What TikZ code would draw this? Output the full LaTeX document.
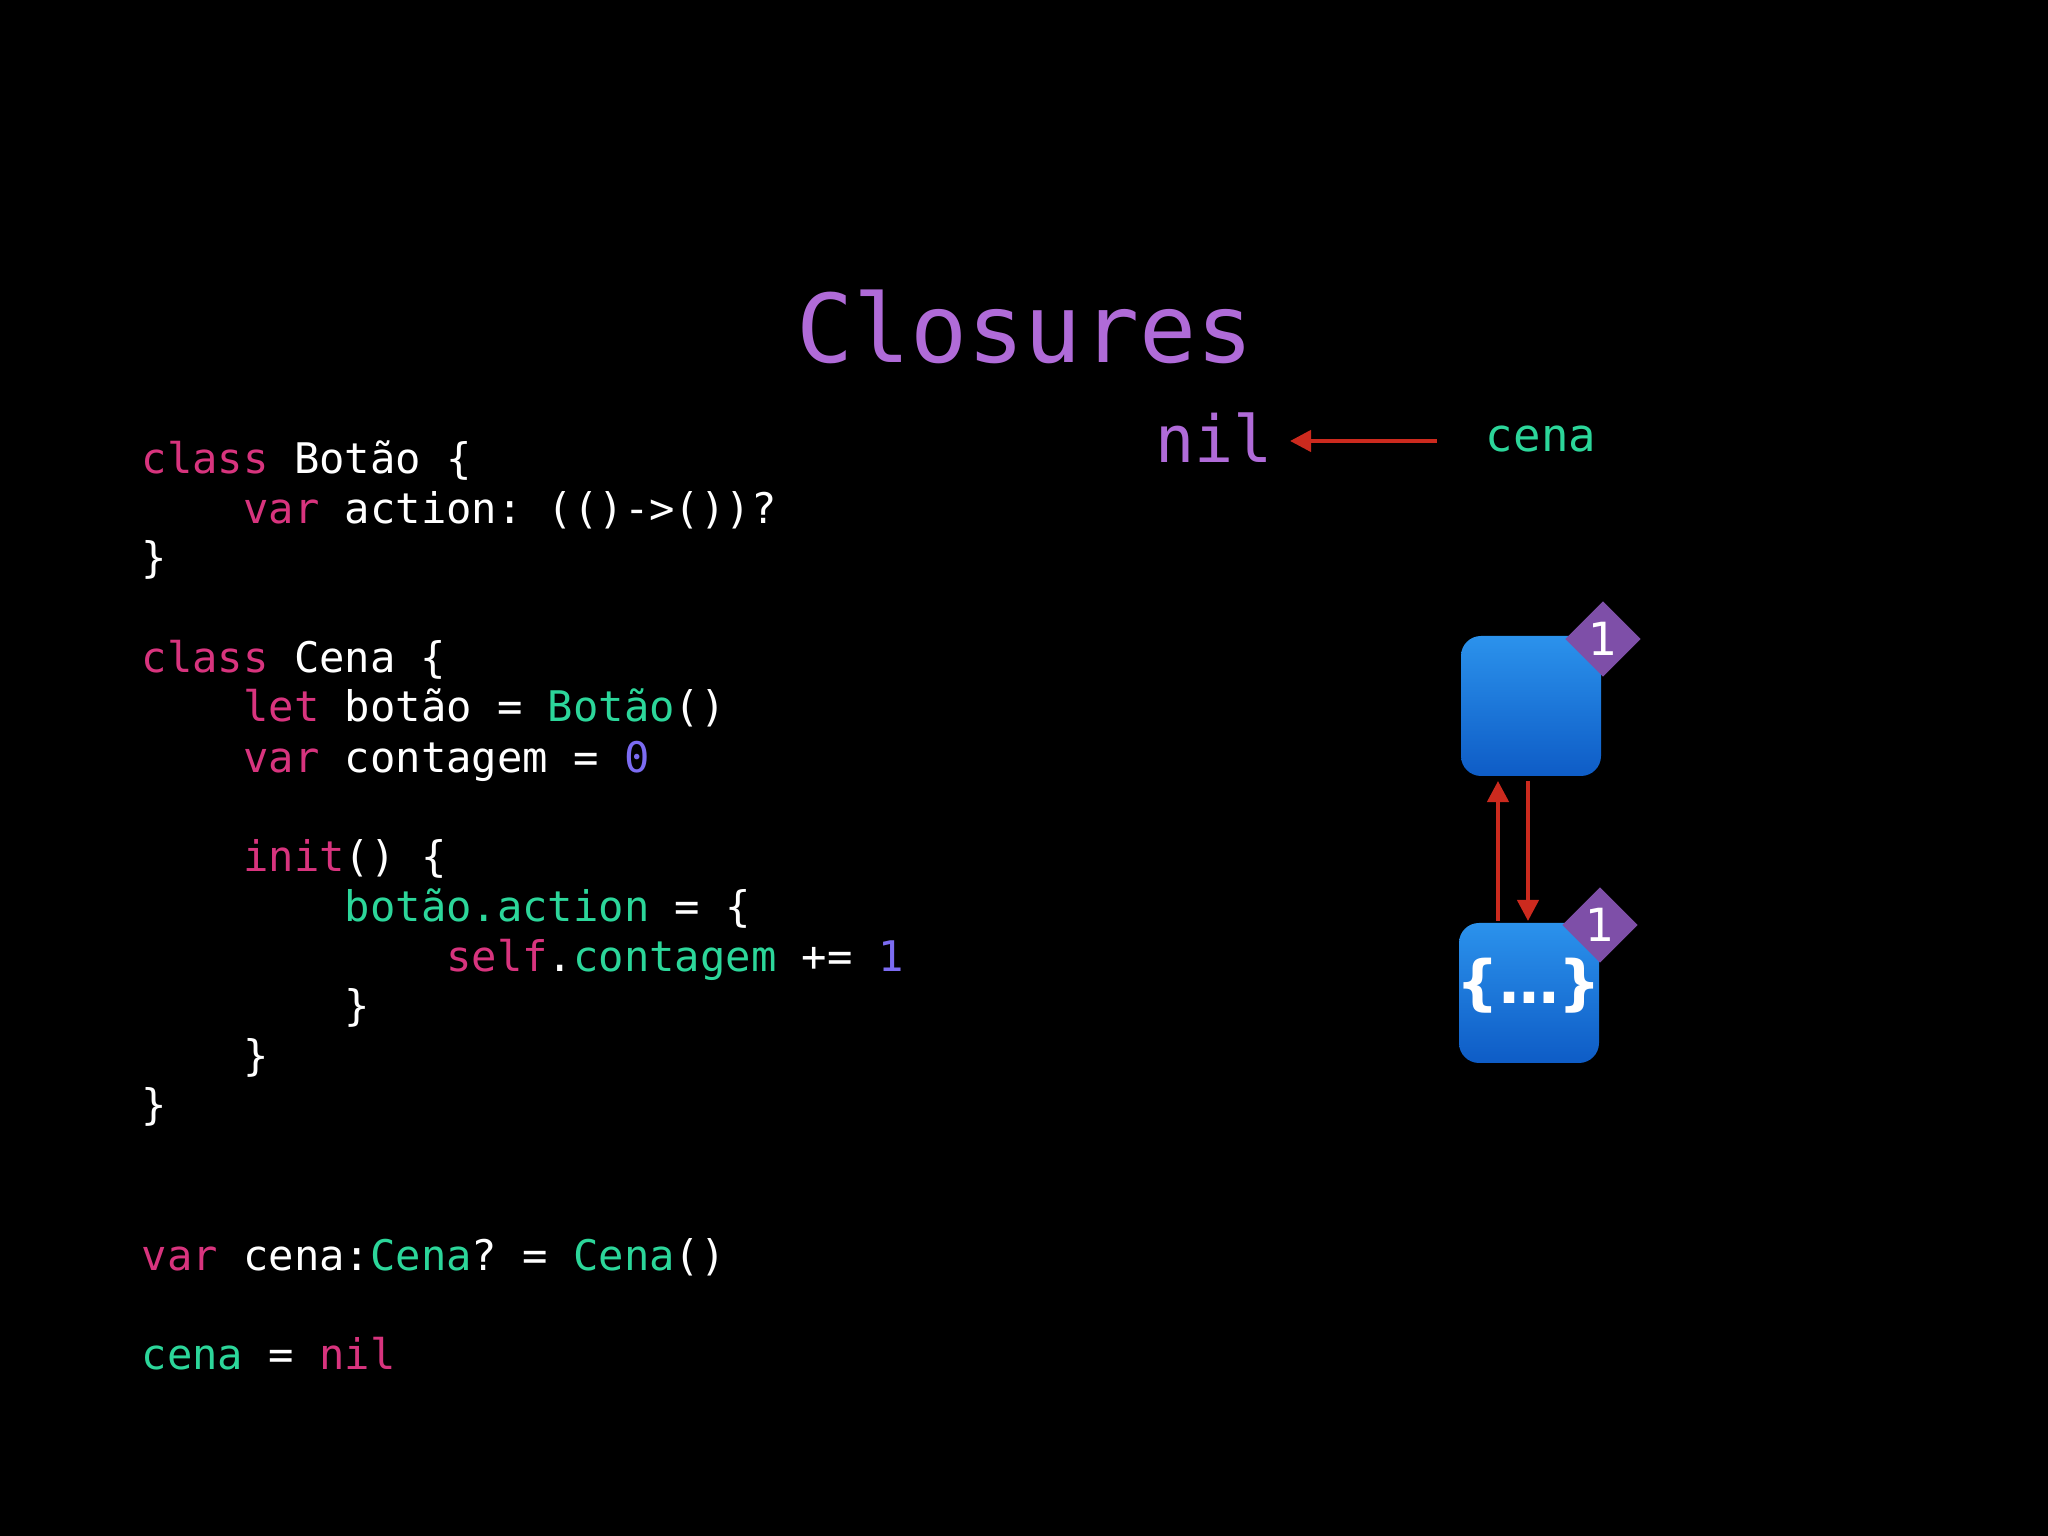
\documentclass[tikz,border=0pt]{standalone}
\usepackage{fontspec}
\setmonofont{DejaVu Sans Mono}
\setsansfont{DejaVu Sans}
\usetikzlibrary{shapes.geometric,arrows.meta}
\definecolor{kw}{HTML}{D8347E}
\definecolor{gr}{HTML}{2CD69A}
\definecolor{num}{HTML}{7C6CF2}
\definecolor{ttl}{HTML}{B06BD8}
\definecolor{arr}{HTML}{CC2A1E}
\definecolor{btop}{HTML}{2B92EC}
\definecolor{bbot}{HTML}{0E5CC6}
\definecolor{badge}{HTML}{7E4FA8}
\newcommand{\K}[1]{\textcolor{kw}{#1}}
\newcommand{\G}[1]{\textcolor{gr}{#1}}
\newcommand{\N}[1]{\textcolor{num}{#1}}
\tikzset{
 code/.style={anchor=base west,inner sep=0pt,text=white,font=\ttfamily\fontsize{12}{14}\selectfont},
 obj/.style={rounded corners=0.2cm,top color=btop,bottom color=bbot,draw=none,minimum width=1.4cm,minimum height=1.4cm,inner sep=0pt},
 badgestyle/.style={diamond,fill=badge,minimum size=0.76cm,inner sep=0pt,text=white,font=\sffamily\fontsize{13}{13}\selectfont},
 ref/.style={draw=arr,line width=1.2pt,-{Triangle[length=6pt,width=6pt]}}
}
\begin{document}
\begin{tikzpicture}
\fill[black] (0,0) rectangle (20.48,15.36);
\useasboundingbox (0,0) rectangle (20.48,15.36);
\node[text=ttl,font=\ttfamily\fontsize{27}{30}\selectfont] (title) at (10.25,12.09) {Closures};
\begin{scope}[yshift=-0.06cm]
\node[code] (l1) at (1.41,10.685) {\K{class} Botão \{};
\node[code] (l2) at (1.41,10.188) {\ \ \ \ \K{var} action: (()->())?};
\node[code] (l3) at (1.41,9.692) {\}};
\node[code] (l4) at (1.41,8.699) {\K{class} Cena \{};
\node[code] (l5) at (1.41,8.203) {\ \ \ \ \K{let} botão = \G{Botão}()};
\node[code] (l6) at (1.41,7.694) {\ \ \ \ \K{var} contagem = \N{0}};
\node[code] (l7) at (1.41,6.701) {\ \ \ \ \K{init}() \{};
\node[code] (l8) at (1.41,6.205) {\ \ \ \ \ \ \ \ \G{botão.action} = \{};
\node[code] (l9) at (1.41,5.709) {\ \ \ \ \ \ \ \ \ \ \ \ \K{self}.\G{contagem} += \N{1}};
\node[code] (l10) at (1.41,5.212) {\ \ \ \ \ \ \ \ \}};
\node[code] (l11) at (1.41,4.716) {\ \ \ \ \}};
\node[code] (l12) at (1.41,4.220) {\}};
\node[code] (l13) at (1.41,2.718) {\K{var} cena:\G{Cena}? = \G{Cena}()};
\node[code] (l14) at (1.41,1.725) {\G{cena} = \K{nil}};
\end{scope}
\node[text=ttl,font=\ttfamily\fontsize{18.5}{20}\selectfont] (nil) at (12.14,10.985) {nil};
\node[text=gr,font=\ttfamily\fontsize{13}{15}\selectfont] (cena) at (15.41,10.97) {cena};
\coordinate (cs) at (14.37,10.95);
\coordinate (ce) at (12.90,10.95);
\draw[ref] (cs) -- (ce);
\node[obj] (b1) at (15.31,8.30) {};
\node[obj] (b2) at (15.29,5.43) {};
\node[text=white,font=\sffamily\bfseries\fontsize{17}{17}\selectfont,inner sep=0pt] (t2) at (15.29,5.50) {\{…\}};
\node[badgestyle] (d1) at (16.03,8.97) {1};
\node[badgestyle] (d2) at (16.00,6.11) {1};
\coordinate (u1) at (14.98,6.15);
\coordinate (u2) at (14.98,7.55);
\coordinate (v1) at (15.28,7.55);
\coordinate (v2) at (15.28,6.15);
\draw[ref] (u1) -- (u2);
\draw[ref] (v1) -- (v2);
\end{tikzpicture}
\end{document}
